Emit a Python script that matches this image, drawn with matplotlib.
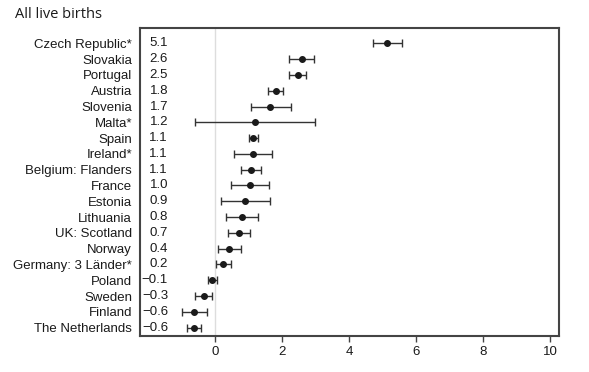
import matplotlib
matplotlib.use("Agg")
import matplotlib.pyplot as plt
import matplotlib.transforms as mtransforms

# countries top to bottom
countries = ["Czech Republic*", "Slovakia", "Portugal", "Austria", "Slovenia",
             "Malta*", "Spain", "Ireland*", "Belgium: Flanders", "France",
             "Estonia", "Lithuania", "UK: Scotland", "Norway", "Germany: 3 L\u00e4nder*",
             "Poland", "Sweden", "Finland", "The Netherlands"]
shown = ["5.1", "2.6", "2.5", "1.8", "1.7", "1.2", "1.1", "1.1", "1.1", "1.0",
         "0.9", "0.8", "0.7", "0.4", "0.2", "\u22120.1", "\u22120.3", "\u22120.6", "\u22120.6"]
estimate = [5.13, 2.59, 2.47, 1.81, 1.65, 1.18, 1.14, 1.13, 1.07, 1.05,
            0.90, 0.80, 0.72, 0.42, 0.23, -0.10, -0.34, -0.62, -0.64]
lower = [4.73, 2.20, 2.20, 1.58, 1.06, -0.59, 1.02, 0.57, 0.78, 0.48,
         0.17, 0.33, 0.40, 0.08, 0.02, -0.20, -0.59, -0.99, -0.83]
upper = [5.58, 2.97, 2.71, 2.04, 2.26, 2.99, 1.28, 1.71, 1.38, 1.61,
         1.65, 1.29, 1.04, 0.77, 0.48, 0.06, -0.08, -0.25, -0.43]
xticks = [0, 2, 4, 6, 8, 10]

fig = plt.figure(figsize=(5.89, 3.72), dpi=100)
ax = fig.add_axes([0.2377, 0.0968, 0.7113, 0.8279])

ypos = list(range(len(countries)))
err = [[e - l for e, l in zip(estimate, lower)], [u - e for e, u in zip(estimate, upper)]]

ax.axvline(0, color="#dddddd", lw=1, zorder=0)
ax.errorbar(estimate, ypos, xerr=err, fmt="o", color="#1a1a1a", ecolor="#333333",
            elinewidth=1, capsize=3, capthick=1, markersize=4)

# value labels inside the plot, right aligned
trans = mtransforms.blended_transform_factory(ax.transAxes, ax.transData)
for y, s in zip(ypos, shown):
    ax.text(0.067, y, s, transform=trans, ha="right", va="center",
            fontsize=9.5, family="Liberation Sans", color="#1a1a1a")

ax.set_yticks(ypos)
ax.set_yticklabels(countries, fontsize=9.5, family="Liberation Sans", color="#1a1a1a")
ax.set_ylim(18.53, -0.97)
ax.set_xlim(-2.24, 10.27)
ax.set_xticks(xticks)
ax.set_xticklabels([str(t) for t in xticks], fontsize=9.5, family="Liberation Sans",
                   color="#1a1a1a")
ax.tick_params(axis="y", length=0, pad=5.8)
ax.tick_params(axis="x", length=4, width=1, color="#444444", pad=3)
for s in ax.spines.values():
    s.set_color("#444444")
    s.set_linewidth(1.5)

fig.text(0.025, 0.962, "All live births", fontsize=10.5, family="Open Sans",
         ha="left", va="center", color="#1a1a1a")

fig.savefig("out.png", dpi=100)
